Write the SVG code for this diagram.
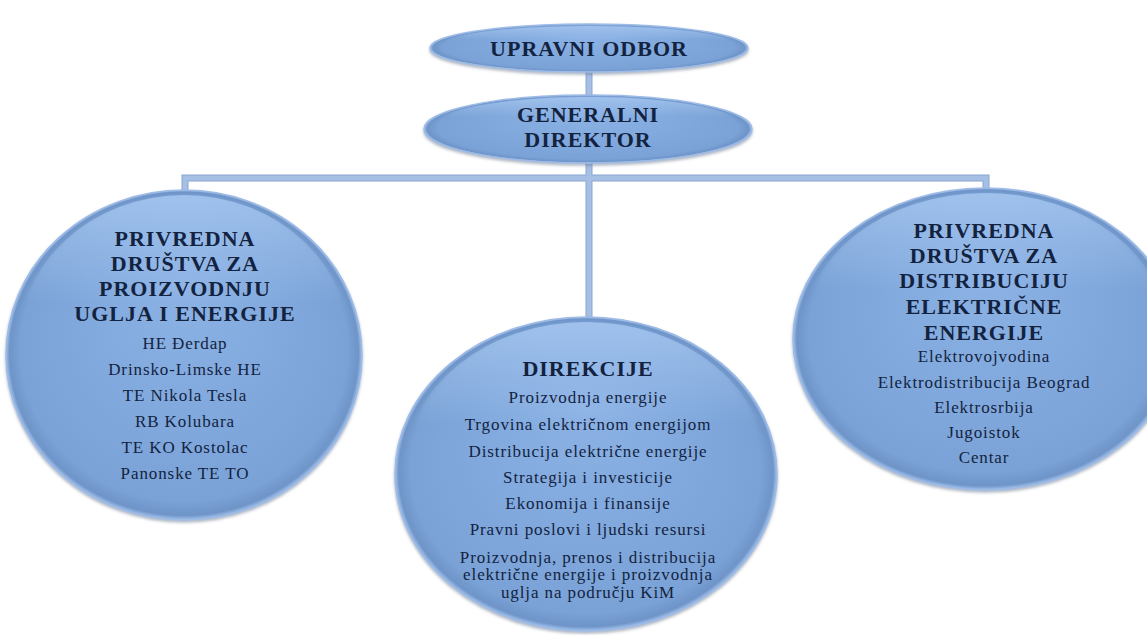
<svg xmlns="http://www.w3.org/2000/svg" width="1147" height="635" viewBox="0 0 1147 635">
<defs>
<radialGradient id="g" cx="0.5" cy="0.5" r="0.5" fx="0.5" fy="0.3">
<stop offset="0" stop-color="#8cb2e5"/>
<stop offset="0.6" stop-color="#80a8dc"/>
<stop offset="0.92" stop-color="#7aa2d6"/>
<stop offset="0.98" stop-color="#6e94c8"/>
<stop offset="1" stop-color="#a3c2ec"/>
</radialGradient>
<linearGradient id="hl" x1="0" y1="0" x2="0" y2="1">
<stop offset="0" stop-color="#b0cff6" stop-opacity="0.7"/>
<stop offset="0.35" stop-color="#b0cff6" stop-opacity="0"/>
</linearGradient>
<filter id="sh" x="-10%" y="-10%" width="120%" height="125%">
<feDropShadow dx="0" dy="2" stdDeviation="1.5" flood-color="#6b7a90" flood-opacity="0.55"/>
</filter>
</defs>
<style>
.sh{fill:url(#g);stroke:#9dbbe6;stroke-width:1.5;filter:url(#sh)}
.hi{fill:url(#hl);stroke:none}
text{fill:#13233f;text-anchor:middle;font-family:"Liberation Serif",serif}
.h{font-weight:bold;font-size:22px;letter-spacing:1px}
.t{font-size:17px;letter-spacing:0.9px}
.c{fill:none;stroke:#a6bfe4;stroke-width:5}
.ce{fill:none;stroke:#8aa6d2;stroke-width:7}
</style>
<g id="connectors">
<g class="ce">
<line x1="589" y1="70" x2="589" y2="97"/>
<polyline points="185,192 185,178 986,178 986,190"/>
<line x1="589" y1="160" x2="589" y2="318"/>
</g>
<g class="c">
<line x1="589" y1="70" x2="589" y2="97"/>
<polyline points="185,192 185,178 986,178 986,190"/>
<line x1="589" y1="160" x2="589" y2="318"/>
</g>
</g>
<g id="upravni-odbor">
<ellipse class="sh" cx="589" cy="48" rx="159" ry="24"/>
<ellipse class="hi" cx="589" cy="46" rx="150" ry="20"/>
<text class="h" x="589" y="56">UPRAVNI ODBOR</text>
</g>
<g id="generalni-direktor">
<ellipse class="sh" cx="588" cy="129" rx="164" ry="34"/>
<ellipse class="hi" cx="588" cy="126" rx="155" ry="29"/>
<text class="h" x="588" y="122">GENERALNI</text>
<text class="h" x="588" y="147">DIREKTOR</text>
</g>
<g id="proizvodnja">
<ellipse class="sh" cx="184" cy="355" rx="178" ry="165"/>
<ellipse class="hi" cx="184" cy="350" rx="168" ry="155"/>
<text class="h" x="185" y="246">PRIVREDNA</text>
<text class="h" x="185" y="271">DRUŠTVA ZA</text>
<text class="h" x="185" y="296">PROIZVODNJU</text>
<text class="h" x="185" y="321">UGLJA I ENERGIJE</text>
<text class="t" x="185" y="349">HE Đerdap</text>
<text class="t" x="185" y="375">Drinsko-Limske HE</text>
<text class="t" x="185" y="401">TE Nikola Tesla</text>
<text class="t" x="185" y="427">RB Kolubara</text>
<text class="t" x="185" y="453">TE KO Kostolac</text>
<text class="t" x="185" y="479">Panonske TE TO</text>
</g>
<g id="direkcije">
<ellipse class="sh" cx="586" cy="474" rx="191" ry="157"/>
<ellipse class="hi" cx="586" cy="469" rx="181" ry="147"/>
<text class="h" x="588" y="376">DIREKCIJE</text>
<text class="t" x="588" y="403">Proizvodnja energije</text>
<text class="t" x="588" y="430">Trgovina električnom energijom</text>
<text class="t" x="588" y="457">Distribucija električne energije</text>
<text class="t" x="588" y="483">Strategija i investicije</text>
<text class="t" x="588" y="509">Ekonomija i finansije</text>
<text class="t" x="588" y="535">Pravni poslovi i ljudski resursi</text>
<text class="t" x="588" y="563">Proizvodnja, prenos i distribucija</text>
<text class="t" x="588" y="580">električne energije i proizvodnja</text>
<text class="t" x="588" y="598">uglja na području KiM</text>
</g>
<g id="distribucija">
<ellipse class="sh" cx="985" cy="339" rx="192" ry="151"/>
<ellipse class="hi" cx="985" cy="334" rx="182" ry="141"/>
<text class="h" x="984" y="238">PRIVREDNA</text>
<text class="h" x="984" y="263">DRUŠTVA ZA</text>
<text class="h" x="984" y="288">DISTRIBUCIJU</text>
<text class="h" x="984" y="314">ELEKTRIČNE</text>
<text class="h" x="984" y="340">ENERGIJE</text>
<text class="t" x="984" y="362">Elektrovojvodina</text>
<text class="t" x="984" y="388">Elektrodistribucija Beograd</text>
<text class="t" x="984" y="413">Elektrosrbija</text>
<text class="t" x="984" y="438">Jugoistok</text>
<text class="t" x="984" y="463">Centar</text>
</g>
</svg>
